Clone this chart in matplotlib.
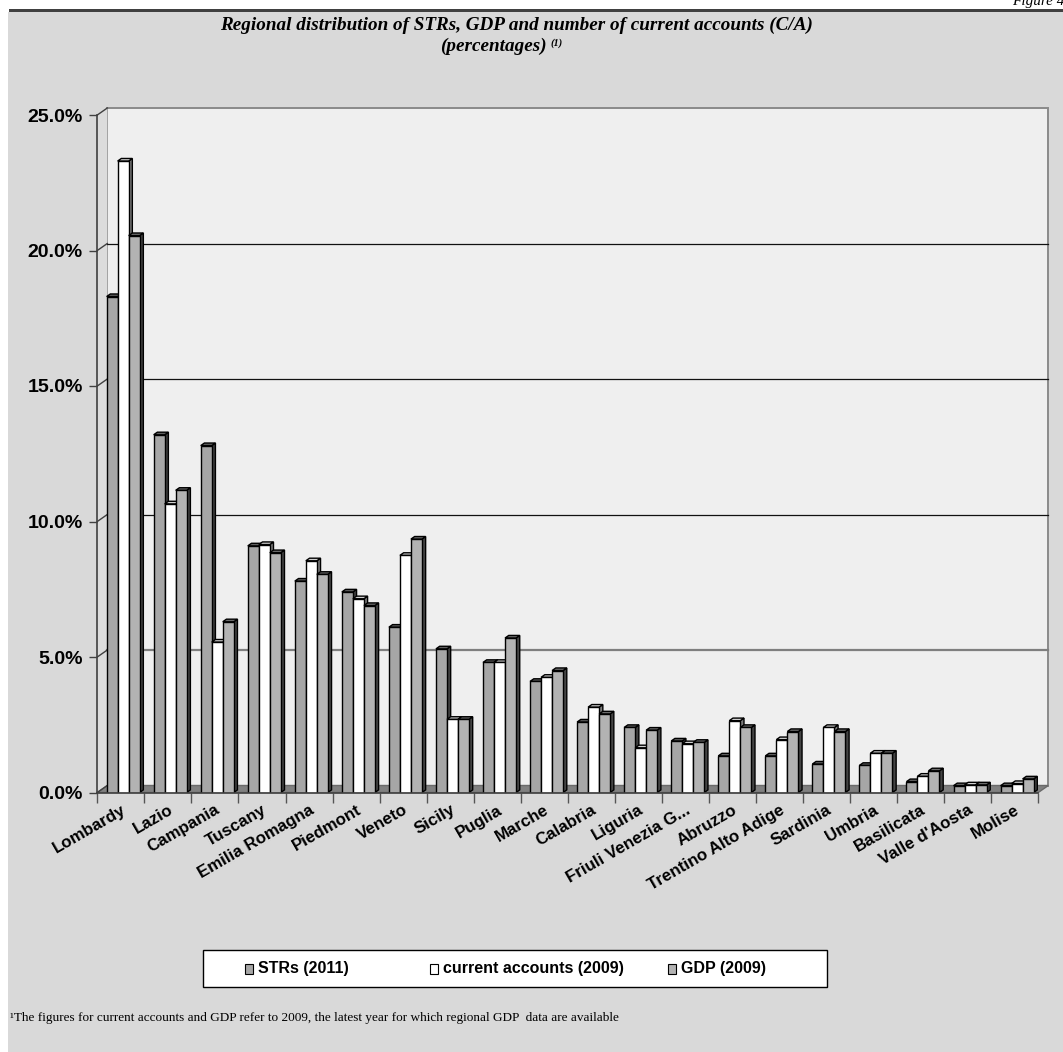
import matplotlib
matplotlib.use("Agg")
import matplotlib.pyplot as plt
from matplotlib.patches import Polygon, Rectangle
from matplotlib.lines import Line2D
from matplotlib.ticker import PercentFormatter, FixedLocator

# ---- data (percent shares by region) ----
regions = ["Lombardy", "Lazio", "Campania", "Tuscany", "Emilia Romagna", "Piedmont",
           "Veneto", "Sicily", "Puglia", "Marche", "Calabria", "Liguria",
           "Friuli Venezia G...", "Abruzzo", "Trentino Alto Adige", "Sardinia",
           "Umbria", "Basilicata", "Valle d'Aosta", "Molise"]
strs_2011 = [18.3, 13.2, 12.8, 9.1, 7.8, 7.4, 6.1, 5.3, 4.8, 4.1,
             2.6, 2.4, 1.9, 1.35, 1.35, 1.05, 1.0, 0.4, 0.25, 0.25]
accounts_2009 = [23.3, 10.65, 5.55, 9.15, 8.55, 7.15, 8.75, 2.7, 4.8, 4.25,
                 3.15, 1.65, 1.8, 2.65, 1.95, 2.4, 1.45, 0.6, 0.28, 0.33]
gdp_2009 = [20.55, 11.15, 6.3, 8.85, 8.05, 6.9, 9.35, 2.7, 5.7, 4.5,
            2.9, 2.3, 1.85, 2.4, 2.25, 2.25, 1.45, 0.8, 0.28, 0.5]
series_names = ["STRs (2011)", "current accounts (2009)", "GDP (2009)"]
y_ticks = [0, 5, 10, 15, 20, 25]

title_line1 = "Regional distribution of STRs, GDP and number of current accounts (C/A)"
title_line2 = "(percentages)"
footnote = ("\u00b9The figures for current accounts and GDP refer to 2009, "
            "the latest year for which regional GDP  data are available")

# ---- styling ----
front_colors = ["#a6a6a6", "#ffffff", "#b3b3b3"]
top_colors = ["#5f5f5f", "#d0d0d0", "#6c6c6c"]
side_colors = ["#3f3f3f", "#7a7a7a", "#444444"]
axis_color = "#404040"

W, H = 1063, 1052
fig = plt.figure(figsize=(W / 100, H / 100), dpi=100)
fig.patch.set_facecolor("white")


def fx(px):
    return px / W


def fy(py):
    return 1 - py / H


# page background and header rule
fig.patches.append(Rectangle((fx(8), 0), fx(W) - fx(8), fy(12), transform=fig.transFigure,
                             facecolor="#d9d9d9", edgecolor="none", zorder=-10))
fig.patches.append(Rectangle((fx(9), fy(12)), 1 - fx(9), 3 / H, transform=fig.transFigure,
                             facecolor="#404040", edgecolor="none", zorder=-9))
fig.text(fx(1012), fy(5), "Figure 4", fontsize=11, style="italic",
         family="Liberation Serif", va="baseline", ha="left")

# plot area: front plane of the 3-D box
ax_left, ax_right, ax_top, ax_bottom = 97.3, 1038.3, 115.0, 792.5
ax = fig.add_axes([fx(ax_left), fy(ax_bottom), fx(ax_right) - fx(ax_left),
                   (ax_bottom - ax_top) / H])
ax.set_facecolor("none")
n = len(regions)
x0, x1 = -0.5, n - 0.5
ymax = y_ticks[-1]
ax.set_xlim(x0, x1)
ax.set_ylim(0, ymax)

px_x = (ax_right - ax_left) / n
px_y = (ax_bottom - ax_top) / ymax
# depth of the walls and of the columns (in data units)
wall_dx, wall_dy = 10 / px_x, 7 / px_y
bar_dx, bar_dy = 3.7 / px_x, 2.6 / px_y

# back wall, left wall, floor
ax.add_patch(Polygon([(x0 + wall_dx, wall_dy), (x1 + wall_dx, wall_dy),
                      (x1 + wall_dx, ymax + wall_dy), (x0 + wall_dx, ymax + wall_dy)],
                     closed=True, facecolor="#efefef", edgecolor="#8a8a8a", lw=1.4,
                     clip_on=False, zorder=0.2))
ax.add_patch(Polygon([(x0, 0), (x0 + wall_dx, wall_dy), (x0 + wall_dx, ymax + wall_dy),
                      (x0, ymax)], closed=True, facecolor="#dcdcdc", edgecolor="none",
                     clip_on=False, zorder=0.25))
ax.add_patch(Polygon([(x0, 0), (x1, 0), (x1 + wall_dx, wall_dy), (x0 + wall_dx, wall_dy)],
                     closed=True, facecolor="#808080", edgecolor="#6a6a6a", lw=1.0,
                     clip_on=False, zorder=0.3))

# gridlines on the back wall and their slanted continuation on the left wall
for v in y_ticks[1:-1]:
    gcol = "#7f7f7f" if v == 5 else "#111111"
    glw = 1.6 if v == 5 else 0.9
    ax.add_line(Line2D([x0 + wall_dx, x1 + wall_dx], [v + wall_dy, v + wall_dy],
                       color=gcol, lw=glw, clip_on=False, zorder=0.4))
for v in y_ticks:
    ax.add_line(Line2D([x0, x0 + wall_dx], [v, v + wall_dy], color=axis_color,
                       lw=1.0, clip_on=False, zorder=0.45))

# clustered 3-D columns
width = 0.234
offsets = [-0.185, 0.049, 0.283]
series = [strs_2011, accounts_2009, gdp_2009]
positions = list(range(n))
for s, vals in enumerate(series):
    bars = ax.bar([p + offsets[s] for p in positions], vals, width=width,
                  color=front_colors[s], edgecolor="black", linewidth=1.0,
                  label=series_names[s])
    for i, rect in enumerate(bars):
        z = 2 + (i * 3 + s) * 0.01
        bx0 = rect.get_x()
        bx1 = bx0 + rect.get_width()
        h = rect.get_height()
        side = Polygon([(bx1, 0), (bx1 + bar_dx, bar_dy), (bx1 + bar_dx, h + bar_dy), (bx1, h)],
                       closed=True, facecolor=side_colors[s], edgecolor="black", lw=1.0,
                       zorder=z)
        top = Polygon([(bx0, h), (bx0 + bar_dx, h + bar_dy), (bx1 + bar_dx, h + bar_dy), (bx1, h)],
                      closed=True, facecolor=top_colors[s], edgecolor="black", lw=1.0,
                      zorder=z)
        ax.add_patch(side)
        ax.add_patch(top)
        rect.set_zorder(z + 0.001)

# axes, ticks and labels
for name in ["top", "right"]:
    ax.spines[name].set_visible(False)
ax.spines["left"].set_color(axis_color)
ax.spines["left"].set_linewidth(1.2)
ax.spines["left"].set_zorder(5)
ax.spines["bottom"].set_color(axis_color)
ax.spines["bottom"].set_linewidth(1.2)
ax.spines["bottom"].set_zorder(5)

ax.set_yticks(y_ticks)
ax.yaxis.set_major_formatter(PercentFormatter(decimals=1))
ax.tick_params(axis="y", length=6, width=1.0, color=axis_color, pad=4.5,
               labelsize=14)
for lab in ax.get_yticklabels():
    lab.set_fontweight("bold")
    lab.set_family("Liberation Sans")

ax.set_xticks(positions)
ax.set_xticklabels(regions, rotation=30, ha="right", va="top",
                   rotation_mode="anchor", fontsize=12.2, fontweight="bold",
                   family="Liberation Sans")
ax.xaxis.set_minor_locator(FixedLocator([p - 0.5 for p in positions] + [n - 0.5]))
ax.tick_params(axis="x", which="major", length=0, pad=7)
ax.tick_params(axis="x", which="minor", length=7.5, width=1.0, color="#555555")

# title
fig.text(fx(516), fy(25), title_line1, ha="center", va="center", fontsize=13.8,
         fontweight="bold", style="italic", family="Liberation Serif")
t2 = fig.text(fx(493), fy(46), title_line2, ha="center", va="center", fontsize=13.8,
              fontweight="bold", style="italic", family="Liberation Serif")
renderer = fig.canvas.get_renderer()
bb = t2.get_window_extent(renderer)
fig.text((bb.x1 + 4) / W, (bb.y1 - 6) / H, "(1)", ha="left", va="center", fontsize=7.5,
         fontweight="bold", style="italic", family="Liberation Serif")

# legend box
leg_x0, leg_x1, leg_y0, leg_y1 = 203, 827, 950, 987
fig.patches.append(Rectangle((fx(leg_x0), fy(leg_y1)), fx(leg_x1) - fx(leg_x0),
                             (leg_y1 - leg_y0) / H, transform=fig.transFigure,
                             facecolor="white", edgecolor="black", lw=1.0, zorder=1))
legend_marker_x = [245, 430, 668]
leg_yc = (leg_y0 + leg_y1) / 2
for s, name in enumerate(series_names):
    mx = legend_marker_x[s]
    fig.patches.append(Rectangle((fx(mx), fy(leg_yc + 5)), 8 / W, 10 / H,
                                 transform=fig.transFigure, facecolor=front_colors[s],
                                 edgecolor="black", lw=0.8, zorder=2))
    fig.text(fx(mx + 13), fy(leg_yc), name, ha="left", va="center", fontsize=11.5,
             fontweight="bold", family="Liberation Sans", zorder=3)

# footnote
fig.text(fx(10), fy(1018), footnote, ha="left", va="center", fontsize=9.5,
         family="Liberation Serif")

fig.savefig("out.png", dpi=100)
